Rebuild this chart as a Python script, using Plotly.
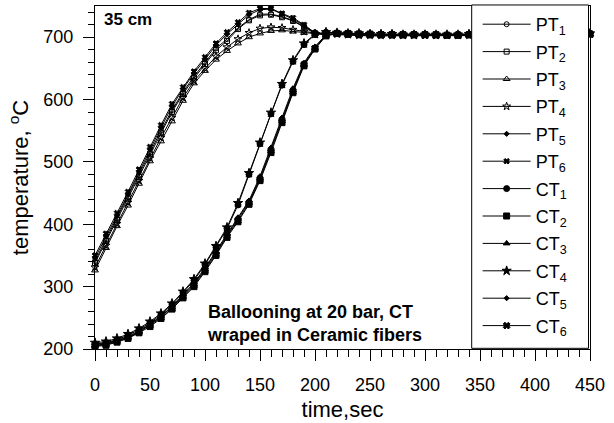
import plotly.graph_objects as go

# time axis, seconds
TIME = [0, 10, 20, 30, 40, 50, 60, 70, 80, 90, 100, 110, 120, 130, 140, 150,
        160, 170, 180, 190, 200, 210, 220, 230, 240, 250, 260, 270, 280, 290,
        300, 310, 320, 330, 340, 350, 360, 370, 380, 390, 400, 410, 420, 430,
        440, 450]

# pellet temperatures
PT1 = [341, 376, 410, 444, 479, 515, 550, 583, 612, 637, 660, 682, 697, 715, 728, 737,
       737, 733, 727, 717, 707, 704, 705, 704, 704, 703, 703, 703, 703, 704, 704, 703,
       703, 703, 704, 704, 704, 703, 703, 704, 704, 704, 705, 705, 705, 705]
PT2 = [338, 373, 407, 441, 476, 512, 546, 580, 609, 634, 657, 679, 694, 713, 727, 735,
       736, 732, 726, 716, 706, 704, 705, 704, 703, 703, 703, 703, 703, 703, 704, 703,
       703, 703, 703, 704, 704, 703, 703, 703, 704, 704, 704, 705, 705, 705]
PT3 = [326, 362, 397, 430, 465, 501, 533, 565, 598, 626, 646, 664, 678, 690, 700, 706,
       710, 711, 709, 707, 705, 704, 704, 703, 703, 702, 702, 702, 702, 703, 703, 702,
       702, 702, 703, 703, 703, 702, 702, 703, 703, 703, 704, 704, 704, 704]
PT4 = [331, 366, 401, 435, 470, 506, 539, 571, 603, 630, 650, 669, 684, 697, 707, 714,
       716, 715, 712, 709, 706, 704, 705, 704, 703, 703, 703, 703, 703, 703, 704, 703,
       703, 703, 703, 704, 704, 703, 703, 703, 704, 704, 704, 705, 705, 705]
PT5 = [346, 381, 414, 448, 484, 520, 555, 589, 617, 642, 665, 687, 705, 721, 736, 744,
       745, 737, 729, 719, 707, 705, 705, 704, 704, 703, 703, 703, 703, 704, 704, 703,
       703, 703, 704, 704, 704, 703, 703, 704, 704, 704, 705, 705, 705, 705]
PT6 = [350, 385, 418, 452, 488, 524, 559, 593, 620, 645, 668, 690, 708, 724, 739, 746,
       746, 738, 731, 720, 707, 705, 705, 704, 704, 704, 703, 703, 704, 704, 704, 704,
       703, 704, 704, 704, 704, 704, 704, 704, 704, 705, 705, 705, 706, 706]

# cladding temperatures
CT1 = [208, 210, 215, 222, 231, 242, 255, 271, 290, 310, 335, 363, 393, 431, 480, 529,
       577, 623, 661, 688, 704, 708, 707, 706, 705, 705, 705, 704, 704, 704, 704, 704,
       704, 704, 704, 704, 704, 704, 704, 705, 705, 705, 705, 706, 706, 706]
CT2 = [204, 206, 211, 217, 226, 236, 249, 264, 282, 300, 324, 350, 379, 404, 432, 470,
       515, 563, 611, 654, 681, 702, 706, 706, 705, 705, 704, 704, 704, 704, 704, 704,
       703, 703, 704, 704, 704, 704, 704, 704, 704, 705, 705, 705, 705, 705]
CT3 = [206, 208, 213, 219, 228, 239, 252, 267, 285, 304, 328, 355, 384, 409, 436, 474,
       520, 568, 615, 657, 683, 703, 706, 706, 705, 705, 704, 704, 704, 704, 704, 704,
       704, 704, 704, 704, 704, 704, 704, 704, 705, 705, 705, 705, 705, 705]
CT4 = [210, 212, 217, 224, 233, 244, 257, 273, 292, 312, 337, 365, 395, 434, 482, 531,
       579, 625, 663, 690, 705, 708, 707, 706, 706, 705, 705, 705, 704, 704, 704, 704,
       704, 704, 705, 705, 705, 704, 704, 705, 705, 705, 705, 706, 706, 706]
CT5 = [207, 209, 214, 220, 229, 240, 253, 268, 287, 306, 330, 357, 386, 411, 438, 477,
       523, 571, 618, 659, 685, 704, 706, 706, 705, 705, 704, 704, 704, 704, 704, 704,
       704, 704, 704, 704, 704, 704, 704, 704, 705, 705, 705, 705, 705, 705]
CT6 = [205, 207, 212, 218, 227, 238, 250, 265, 283, 302, 326, 352, 381, 406, 434, 472,
       518, 566, 613, 656, 682, 703, 706, 706, 705, 704, 704, 704, 704, 704, 703, 703,
       703, 704, 704, 704, 704, 704, 704, 704, 704, 705, 705, 705, 705, 705]

SERIES = [
    ("PT<sub>1</sub>", PT1, "circle-open", 5),
    ("PT<sub>2</sub>", PT2, "square-open", 5),
    ("PT<sub>3</sub>", PT3, "triangle-up-open", 6),
    ("PT<sub>4</sub>", PT4, "star-open", 6),
    ("PT<sub>5</sub>", PT5, "diamond", 4),
    ("PT<sub>6</sub>", PT6, "x", 5),
    ("CT<sub>1</sub>", CT1, "circle", 6),
    ("CT<sub>2</sub>", CT2, "square", 6),
    ("CT<sub>3</sub>", CT3, "triangle-up", 6),
    ("CT<sub>4</sub>", CT4, "star", 7),
    ("CT<sub>5</sub>", CT5, "diamond", 4),
    ("CT<sub>6</sub>", CT6, "x", 6),
]

FONT = "Liberation Sans, Arial, sans-serif"

fig = go.Figure()
for i, (name, vals, sym, size) in enumerate(SERIES):
    fig.add_trace(go.Scatter(
        x=TIME, y=vals, name=name, mode="lines+markers",
        legendgroup=f"g{i}",
        line=dict(color="black", width=1),
        marker=dict(symbol=sym, size=size, color="black",
                    line=dict(color="black", width=1)),
        cliponaxis=False,
    ))

fig.update_layout(
    width=614, height=423,
    margin=dict(l=95, r=24, t=5, b=70),
    paper_bgcolor="white", plot_bgcolor="white",
    font=dict(family=FONT, size=18, color="black"),
    legend=dict(
        x=0.773, y=1.0, xanchor="left", yanchor="top",
        bgcolor="rgba(0,0,0,0)", borderwidth=0,
        font=dict(size=18), tracegroupgap=1, itemwidth=48,
        maxheight=400,
    ),
    # legend frame
    shapes=[dict(type="rect", xref="paper", yref="paper",
                 x0=0.761, x1=0.997, y0=0.002, y1=1.003, layer="above",
                 fillcolor="white", line=dict(color="black", width=1))],
    annotations=[
        dict(text="<b>35 cm</b>", x=0.015, y=0.96, xref="paper", yref="paper",
             xanchor="left", yanchor="middle", showarrow=False, font=dict(size=17)),
        dict(text="<b>Ballooning at 20 bar, CT<br>wraped in Ceramic fibers</b>",
             x=0.222, y=0.075, xref="paper", yref="paper", align="left",
             xanchor="left", yanchor="middle", showarrow=False, font=dict(size=18)),
    ],
)

fig.update_xaxes(
    range=[0, 450], dtick=50, tick0=0,
    showline=True, linecolor="black", linewidth=1, mirror=True,
    ticks="outside", ticklen=11, tickcolor="black", ticklabelstandoff=8,
    minor=dict(dtick=10, ticks="outside", ticklen=7, tickcolor="black"),
    showgrid=False, zeroline=False,
    title=dict(text="time,sec", standoff=8),
)
fig.update_yaxes(
    range=[200, 750], dtick=100, tick0=200,
    showline=True, linecolor="black", linewidth=1, mirror=True,
    ticks="outside", ticklen=11, tickcolor="black", ticklabelstandoff=6,
    minor=dict(dtick=20, ticks="outside", ticklen=6, tickcolor="black"),
    showgrid=False, zeroline=False,
    title=dict(text="temperature, <sup>o</sup>C", standoff=8),
)

fig.write_html("out.html", config={"displayModeBar": False},
               post_script="document.body.style.margin='0';")
